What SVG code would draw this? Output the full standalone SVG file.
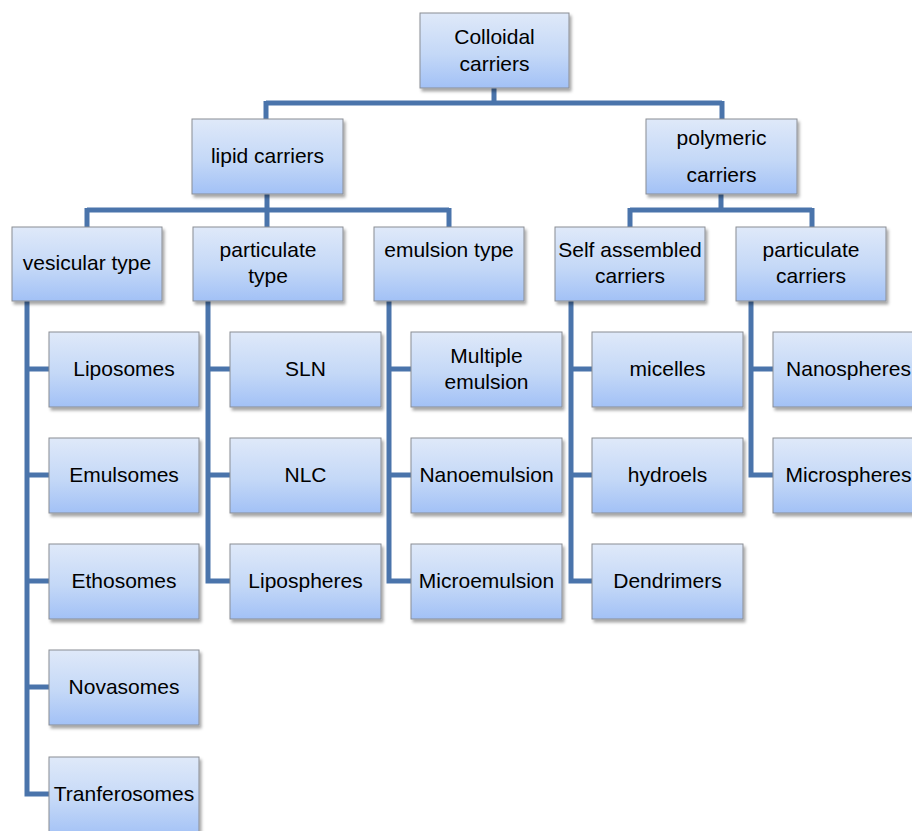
<svg xmlns="http://www.w3.org/2000/svg" width="912" height="831" viewBox="0 0 912 831">
<defs>
<linearGradient id="g" x1="0" y1="0" x2="0" y2="1">
<stop offset="0" stop-color="#dfe9f9"/>
<stop offset="0.55" stop-color="#c4d8f7"/>
<stop offset="1" stop-color="#a2c1f6"/>
</linearGradient>
<filter id="sh" x="-10%" y="-10%" width="125%" height="130%">
<feDropShadow dx="2" dy="3" stdDeviation="1.5" flood-color="#000" flood-opacity="0.35"/>
</filter>
<style>
.b{fill:url(#g);stroke:#8a8d93;stroke-width:1;filter:url(#sh)}
.t{font-family:"Liberation Sans",Arial,sans-serif;font-size:21px;fill:#000;text-anchor:middle}
.c{fill:none;stroke:#4a74ab;stroke-width:5;stroke-linejoin:miter;stroke-linecap:butt}
</style>
</defs>
<rect width="912" height="831" fill="#fff"/>
<g id="connectors">
<path class="c" d="M494 88V103M266 103H722M266 101V120M722 101V120"/>
<path class="c" d="M267 194V210M87 210H449M87 208V228M267 208V228M449 208V228"/>
<path class="c" d="M721 194V210M630 210H812M630 208V228M812 208V228"/>
<path class="c" d="M27 300V794H49M27 369H49M27 475H49M27 581H49M27 687H49"/>
<path class="c" d="M208 300V581H230M208 369H230M208 475H230"/>
<path class="c" d="M389 300V581H411M389 369H411M389 475H411"/>
<path class="c" d="M571 300V581H592M571 369H592M571 475H592"/>
<path class="c" d="M751 300V475H773M751 369H773"/>
</g>
<g id="colloidal"><rect class="b" x="420" y="13" width="149" height="75"/><text class="t" x="494.5" y="44">Colloidal</text><text class="t" x="494.5" y="71">carriers</text></g>
<g id="lipid"><rect class="b" x="192" y="119" width="151" height="75"/><text class="t" x="267.5" y="163">lipid carriers</text></g>
<g id="polymeric"><rect class="b" x="646" y="119" width="151" height="75"/><text class="t" x="721.5" y="145">polymeric</text><text class="t" x="721.5" y="182">carriers</text></g>
<g id="vesicular"><rect class="b" x="12" y="227" width="150" height="74"/><text class="t" x="87" y="270">vesicular type</text></g>
<g id="particulate-type"><rect class="b" x="193" y="227" width="150" height="74"/><text class="t" x="268" y="257">particulate</text><text class="t" x="268" y="283">type</text></g>
<g id="emulsion"><rect class="b" x="374" y="227" width="150" height="74"/><text class="t" x="449" y="257">emulsion type</text></g>
<g id="self-assembled"><rect class="b" x="555" y="227" width="150" height="74"/><text class="t" x="630" y="257">Self assembled</text><text class="t" x="630" y="283">carriers</text></g>
<g id="particulate-carriers"><rect class="b" x="736" y="227" width="150" height="74"/><text class="t" x="811" y="257">particulate</text><text class="t" x="811" y="283">carriers</text></g>
<g id="liposomes"><rect class="b" x="49" y="332" width="150" height="75"/><text class="t" x="124" y="376">Liposomes</text></g>
<g id="emulsomes"><rect class="b" x="49" y="438" width="150" height="75"/><text class="t" x="124" y="482">Emulsomes</text></g>
<g id="ethosomes"><rect class="b" x="49" y="544" width="150" height="75"/><text class="t" x="124" y="588">Ethosomes</text></g>
<g id="novasomes"><rect class="b" x="49" y="650" width="150" height="75"/><text class="t" x="124" y="694">Novasomes</text></g>
<g id="tranferosomes"><rect class="b" x="49" y="757" width="150" height="80"/><text class="t" x="124" y="801">Tranferosomes</text></g>
<g id="sln"><rect class="b" x="230" y="332" width="151" height="75"/><text class="t" x="305.5" y="376">SLN</text></g>
<g id="nlc"><rect class="b" x="230" y="438" width="151" height="75"/><text class="t" x="305.5" y="482">NLC</text></g>
<g id="lipospheres"><rect class="b" x="230" y="544" width="151" height="75"/><text class="t" x="305.5" y="588">Lipospheres</text></g>
<g id="multiple-emulsion"><rect class="b" x="411" y="332" width="151" height="75"/><text class="t" x="486.5" y="363">Multiple</text><text class="t" x="486.5" y="389">emulsion</text></g>
<g id="nanoemulsion"><rect class="b" x="411" y="438" width="151" height="75"/><text class="t" x="486.5" y="482">Nanoemulsion</text></g>
<g id="microemulsion"><rect class="b" x="411" y="544" width="151" height="75"/><text class="t" x="486.5" y="588">Microemulsion</text></g>
<g id="micelles"><rect class="b" x="592" y="332" width="151" height="75"/><text class="t" x="667.5" y="376">micelles</text></g>
<g id="hydroels"><rect class="b" x="592" y="438" width="151" height="75"/><text class="t" x="667.5" y="482">hydroels</text></g>
<g id="dendrimers"><rect class="b" x="592" y="544" width="151" height="75"/><text class="t" x="667.5" y="588">Dendrimers</text></g>
<g id="nanospheres"><rect class="b" x="773" y="332" width="151" height="75"/><text class="t" x="848.5" y="376">Nanospheres</text></g>
<g id="microspheres"><rect class="b" x="773" y="438" width="151" height="75"/><text class="t" x="848.5" y="482">Microspheres</text></g>
</svg>
